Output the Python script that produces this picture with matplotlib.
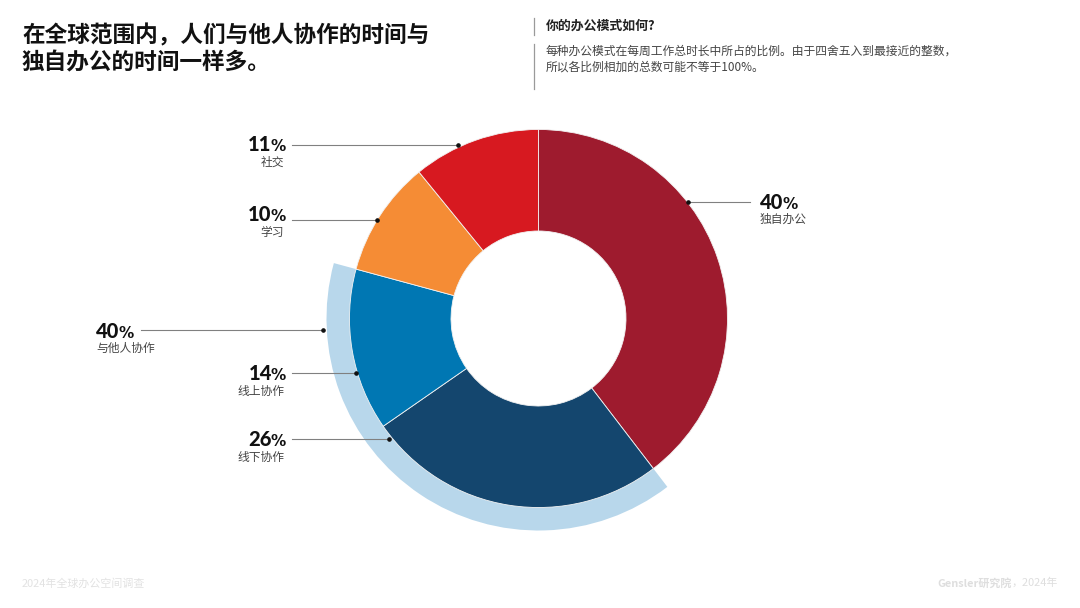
import matplotlib
matplotlib.use("Agg")
import matplotlib.pyplot as plt

plt.rcParams['font.family'] = ['Noto Sans CJK SC', 'DejaVu Sans']

categories = ['独自办公', '线下协作', '线上协作', '学习', '社交']
values = [40, 26, 14, 10, 11]
colors = ['#9E1B2E', '#14466E', '#0077B3', '#F58C35', '#D71920']
band_values = [40, 40, 21]
band_colors = ['none', '#B8D7EB', 'none']
title_lines = ['在全球范围内，人们与他人协作的时间与', '独自办公的时间一样多。']
sub_head = '你的办公模式如何?'
sub_lines = ['每种办公模式在每周工作总时长中所占的比例。由于四舍五入到最接近的整数，',
             '所以各比例相加的总数可能不等于100%。']

W, H = 1080, 608
fig = plt.figure(figsize=(W / 100, H / 100), dpi=100, facecolor='white')
ax = fig.add_axes([0, 0, 1, 1])
Y = lambda y: H - y
cx, cy = 538.5, Y(318.5)

ax.pie(band_values, colors=band_colors, radius=212, center=(cx, cy), startangle=90,
       counterclock=False, frame=True, wedgeprops=dict(width=24, linewidth=0))
ax.pie(values, colors=colors, radius=189, center=(cx, cy), startangle=90,
       counterclock=False, frame=True,
       wedgeprops=dict(width=101.5, linewidth=0.6, edgecolor='#F2F2F2'))

ax.set_xlim(0, W)
ax.set_ylim(0, H)
ax.set_aspect('equal')
ax.axis('off')

# Header
for y, line in zip((36, 62.5), title_lines):
    ax.text(22, Y(y), line, fontsize=16.3, fontweight='bold', color='#111111', va='center', ha='left')
ax.text(546, Y(26), sub_head, fontsize=9.3, fontweight='bold', color='#222222', va='center', ha='left')
for y, line in zip((51, 67), sub_lines):
    ax.text(546, Y(y), line, fontsize=8.5, color='#444444', va='center', ha='left')
ax.plot([534, 534], [Y(18), Y(35)], color='#9A9A9A', lw=0.9)
ax.plot([534, 534], [Y(44), Y(89)], color='#9A9A9A', lw=0.9)

renderer = fig.canvas.get_renderer()

# Footer
ax.text(22, Y(583), '2024年全球办公空间调查', fontsize=7.9, color='#E2E2E2', va='center', ha='left')
foot = ax.text(1058, Y(583), '，2024年', fontsize=7.9, color='#DEDEDE', va='center', ha='right')
ax.text(1058 - foot.get_window_extent(renderer).width, Y(583), 'Gensler研究院', fontsize=7.9,
        fontweight='bold', color='#DEDEDE', va='center', ha='right')


def pct_label(value, name, x, y, side):
    """x is the outer text edge; y is the leader line level."""
    num_kw = dict(family='Lato', fontweight='black', color='#111111', va='baseline')
    pct_kw = dict(family='DejaVu Sans', fontweight='bold', color='#111111', va='baseline')
    base = Y(y + 7)
    if side == 'right':
        p = ax.text(x + 2, base, '%', fontsize=11, ha='right', **pct_kw)
        w = p.get_window_extent(renderer).width
        ax.text(x + 3 - w, base, str(value), fontsize=14.5, ha='right', **num_kw)
        ax.text(x, Y(y + 18), name, fontsize=8.5, color='#444444', ha='right', va='center')
    else:
        n = ax.text(x, base, str(value), fontsize=14.5, ha='left', **num_kw)
        w = n.get_window_extent(renderer).width
        ax.text(x + w - 1, base, '%', fontsize=11, ha='left', **pct_kw)
        ax.text(x, Y(y + 17), name, fontsize=8.5, color='#444444', ha='left', va='center')


def leader(x0, x1, y, dot_x):
    ax.plot([x0, x1], [Y(y), Y(y)], color='#808080', lw=0.8, zorder=5)
    ax.plot([dot_x], [Y(y)], 'o', color='#111111', ms=2.3, zorder=6)


leader(688, 750, 202, 688)
pct_label(values[0], categories[0], 760, 202, 'left')
leader(292, 458, 145, 458)
pct_label(values[4], categories[4], 284, 144, 'right')
leader(292, 377, 220, 377)
pct_label(values[3], categories[3], 284, 214, 'right')
leader(141, 323, 330, 323)
pct_label(40, '与他人协作', 96, 331, 'left')
leader(292, 356, 372.5, 356)
pct_label(values[2], categories[2], 284, 373, 'right')
leader(292, 389, 439, 389)
pct_label(values[1], categories[1], 284, 439, 'right')

fig.savefig('out.png', dpi=100, facecolor='white')
